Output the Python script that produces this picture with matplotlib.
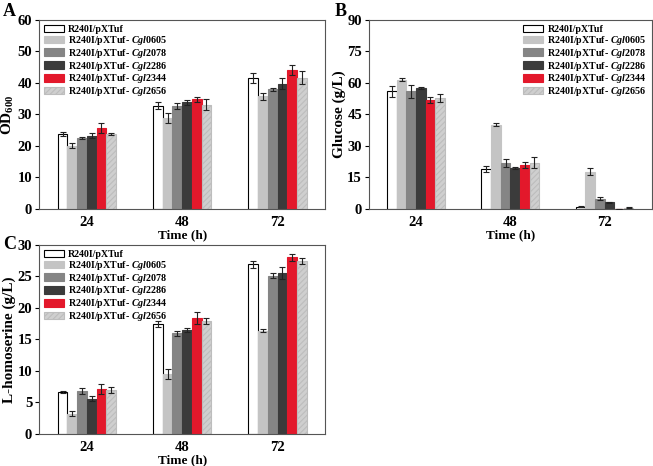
import numpy as np
import matplotlib.pyplot as plt

plt.rcParams['font.family'] = ['Liberation Serif', 'DejaVu Serif']
plt.rcParams['font.weight'] = 'bold'
plt.rcParams['mathtext.fontset'] = 'custom'
plt.rcParams['mathtext.rm'] = 'Liberation Serif:bold'
plt.rcParams['mathtext.it'] = 'Liberation Serif:italic:bold'
plt.rcParams['mathtext.bf'] = 'Liberation Serif:bold'
plt.rcParams['hatch.color'] = '#7a7a7a'
plt.rcParams['hatch.linewidth'] = 0.8

times = ['24', '48', '72']
genes = ['', 'Cgl0605', 'Cgl2078', 'Cgl2286', 'Cgl2344', 'Cgl2656']

# OD600, rows = strains, cols = time points
od = [[23.7, 32.8, 41.6],
      [20.1, 28.9, 35.8],
      [22.4, 32.7, 37.9],
      [23.3, 33.8, 39.8],
      [25.7, 34.8, 44.1],
      [23.8, 33.1, 41.7]]
od_err = [[0.7, 1.2, 1.5],
          [0.8, 1.6, 1.1],
          [0.3, 0.9, 0.6],
          [0.8, 0.7, 1.6],
          [1.7, 0.8, 1.6],
          [0.4, 1.8, 2.1]]

glc = [[55.9, 19.0, 1.0],
       [61.5, 40.0, 17.8],
       [55.9, 21.9, 4.9],
       [57.5, 19.5, 3.1],
       [52.0, 21.0, 0.0],
       [52.8, 22.0, 0.6]]
glc_err = [[2.5, 1.5, 0.2],
           [0.8, 0.7, 1.5],
           [3.0, 1.8, 0.6],
           [0.6, 0.6, 0.3],
           [1.5, 1.3, 0.0],
           [2.0, 2.5, 0.2]]

hse = [[6.6, 17.4, 26.9],
       [3.2, 9.5, 16.4],
       [6.8, 16.0, 25.1],
       [5.6, 16.5, 25.5],
       [7.2, 18.4, 28.0],
       [7.0, 17.9, 27.4]]
hse_err = [[0.15, 0.5, 0.6],
           [0.4, 0.8, 0.2],
           [0.5, 0.4, 0.4],
           [0.4, 0.3, 1.0],
           [0.8, 0.9, 0.5],
           [0.5, 0.5, 0.5]]

colors = ['white', '#c4c4c4', '#858585', '#3b3b3b', '#e3182b', '#cfcfcf']
edges = ['black', '#c4c4c4', '#858585', '#3b3b3b', '#e3182b', '#bdbdbd']
hatches = [None, None, None, None, None, '//////']


def draw(ax, vals, errs, ylim, yticks, ylabel, legend_loc, legend_anchor):
    x = np.arange(1, 4)
    w = 0.102
    handles = []
    for i in range(6):
        pos = x + (i - 2.5) * w
        b = ax.bar(pos, vals[i], w, color=colors[i], edgecolor=edges[i],
                   linewidth=0.8, hatch=hatches[i], zorder=2)
        ax.errorbar(pos, vals[i], yerr=errs[i], fmt='none', ecolor='#222222',
                    elinewidth=0.8, capsize=2, capthick=0.8, zorder=3)
        handles.append(b)
    ax.set_xlim(0.5, 3.5)
    ax.set_ylim(*ylim)
    ax.set_yticks(yticks)
    ax.set_xticks(x)
    ax.set_xticklabels(times)
    ax.tick_params(labelsize=10.5, length=3, width=0.8, pad=2)
    ax.tick_params(axis='x', length=0, pad=5)
    for s in ax.spines.values():
        s.set_color('#555555')
        s.set_linewidth(0.8)
    ax.set_xlabel('Time (h)', fontsize=9.5, fontweight='bold', labelpad=0)
    ax.set_ylabel(ylabel, fontsize=11, fontweight='bold', labelpad=1)
    labels = ['R240I/pXTuf'] + ['R240I/pXTuf- $\\mathit{%s}$' % g for g in genes[1:]]
    ax.legend(handles, labels, loc=legend_loc, bbox_to_anchor=legend_anchor,
              frameon=False, fontsize=7.2, handlelength=2.0, handleheight=0.8,
              handletextpad=0.4, labelspacing=-0.02, borderaxespad=0.3,
              borderpad=0.2)


fig = plt.figure(figsize=(6.53, 4.66), dpi=100)
axA = fig.add_axes([0.060, 0.5515, 0.438, 0.406])
axB = fig.add_axes([0.565, 0.5515, 0.433, 0.406])
axC = fig.add_axes([0.060, 0.0687, 0.438, 0.406])

draw(axA, od, od_err, (0, 60), range(0, 61, 10), 'OD$_{600}$', 'upper left', (0.0, 1.0))
draw(axB, glc, glc_err, (0, 90), range(0, 91, 15), 'Glucose (g/L)', 'upper right', (1.0, 1.0))
draw(axC, hse, hse_err, (0, 30), range(0, 31, 5), 'L-homoserine (g/L)', 'upper left', (0.0, 1.0))

fig.text(0.005, 0.975, 'A', fontsize=13, fontweight='bold', va='center')
fig.text(0.513, 0.975, 'B', fontsize=13, fontweight='bold', va='center')
fig.text(0.005, 0.476, 'C', fontsize=13, fontweight='bold', va='center')

fig.savefig('out.png', dpi=100)
